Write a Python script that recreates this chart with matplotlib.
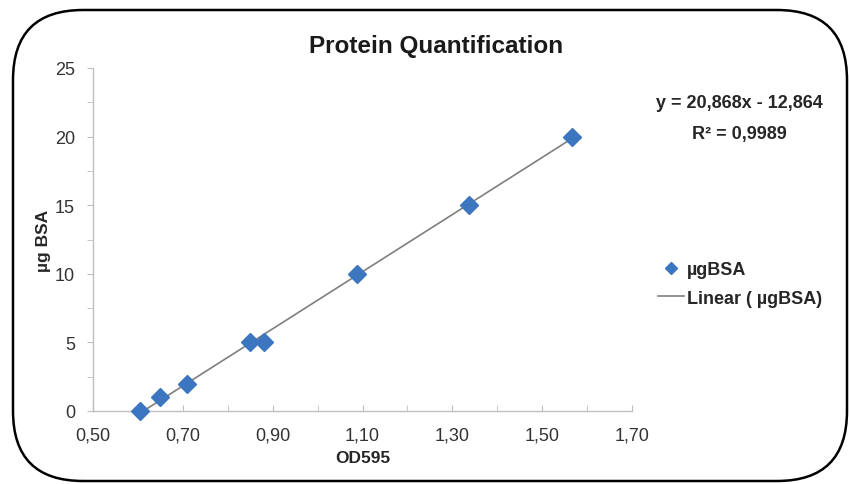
import matplotlib.pyplot as plt
import numpy as np
from matplotlib.patches import FancyBboxPatch
from matplotlib.transforms import IdentityTransform
from matplotlib.ticker import FixedLocator, MultipleLocator, FuncFormatter

plt.rcParams['font.family'] = ['Liberation Sans', 'DejaVu Sans']

# data
od595 = [0.605, 0.650, 0.709, 0.850, 0.880, 1.088, 1.336, 1.566]
ug_bsa = [0, 1, 2, 5, 5, 10, 15, 20]
x_ticks = [0.50, 0.70, 0.90, 1.10, 1.30, 1.50, 1.70]
equation = "y = 20,868x - 12,864"
r_squared = "R² = 0,9989"

W, H = 849, 485
fig = plt.figure(figsize=(W / 100, H / 100), dpi=100)

# rounded frame around the whole chart (pixel coords)
frame = FancyBboxPatch((13, 3), 847 - 13, 474 - 3,
                       boxstyle="round,pad=0,rounding_size=70",
                       transform=IdentityTransform(), fill=False,
                       edgecolor='black', linewidth=1.8)
fig.patches.append(frame)

ax = fig.add_axes([93 / W, 1 - 412 / H, (632 - 93) / W, (412 - 69) / H])

# trendline from a least squares fit
coef = np.polyfit(od595, ug_bsa, 1)
xs = np.array([min(od595), max(od595)])
trend, = ax.plot(xs, np.polyval(coef, xs), color='#7f7f7f', linewidth=1.2,
                 zorder=2, label='Linear ( µgBSA)')
pts, = ax.plot(od595, ug_bsa, linestyle='none', marker='D', markersize=9,
               color='#3d76c0', markeredgecolor='#3d76c0', zorder=3,
               label='µgBSA', clip_on=False)

ax.set_xlim(0.5, 1.7)
ax.set_ylim(0, 25)
ax.xaxis.set_major_locator(FixedLocator(x_ticks))
ax.xaxis.set_minor_locator(MultipleLocator(0.1))
ax.yaxis.set_major_locator(MultipleLocator(5))
ax.yaxis.set_minor_locator(MultipleLocator(2.5))
ax.xaxis.set_major_formatter(FuncFormatter(lambda v, p: f"{v:.2f}".replace('.', ',')))

for s in ['top', 'right']:
    ax.spines[s].set_visible(False)
for s in ['left', 'bottom']:
    ax.spines[s].set_color('#bfbfbf')
    ax.spines[s].set_linewidth(1.0)
ax.tick_params(which='both', color='#bfbfbf', labelcolor='#333333', labelsize=13)
ax.tick_params(axis='x', which='both', direction='in', length=4, pad=11)
ax.tick_params(axis='y', which='both', direction='out', length=4, pad=9)

ax.set_xlabel('OD595', fontsize=12.5, fontweight='bold', color='#262626', labelpad=5)
ax.set_ylabel('µg BSA', fontsize=12.5, fontweight='bold', color='#262626', labelpad=3)
fig.text(436 / W, 1 - 47 / H, 'Protein Quantification', ha='center', va='center',
         fontsize=17.5, fontweight='bold', color='#1a1a1a')

fig.text(739 / W, 1 - 104 / H, equation, ha='center', va='center',
         fontsize=13, fontweight='bold', color='#262626')
fig.text(739 / W, 1 - 135 / H, r_squared, ha='center', va='center',
         fontsize=13, fontweight='bold', color='#262626')

leg = fig.legend(handles=[pts, trend], loc='upper left',
                 bbox_to_anchor=(658 / W, 1 - 262 / H), frameon=False,
                 borderpad=0, borderaxespad=0,
                 prop={'size': 13, 'weight': 'bold'}, handlelength=1.45,
                 handletextpad=0.15, labelspacing=0.65, markerscale=0.7)
for t in leg.get_texts():
    t.set_color('#262626')

fig.savefig('out.png', dpi=100)
